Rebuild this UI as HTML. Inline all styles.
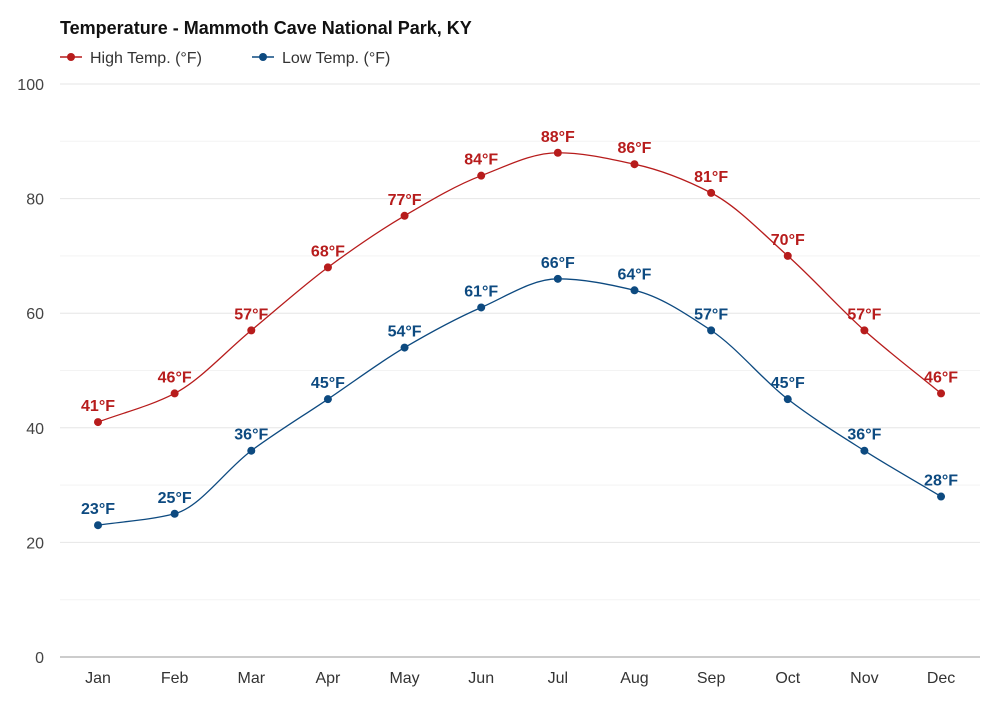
<!DOCTYPE html>
<html><head><meta charset="utf-8"><style>
body{margin:0;background:#fff;font-family:"Liberation Sans",sans-serif}
svg text{font-family:"Liberation Sans",sans-serif}
</style></head><body>
<svg id="chart" width="1000" height="700">
<text x="60" y="34" font-size="18" font-weight="bold" fill="#111">Temperature - Mammoth Cave National Park, KY</text>
<g>
<line x1="60" y1="57" x2="82" y2="57" stroke="#b71c1c" stroke-width="1.5"/><circle cx="71" cy="57" r="4" fill="#b71c1c"/>
<text x="90" y="63" font-size="16" fill="#333">High Temp. (°F)</text></g>
<g>
<line x1="252" y1="57" x2="274" y2="57" stroke="#0d4a80" stroke-width="1.5"/><circle cx="263" cy="57" r="4" fill="#0d4a80"/>
<text x="282" y="63" font-size="16" fill="#333">Low Temp. (°F)</text></g>
<g id="grid"></g><g id="series"></g>
</svg>
<script>
const months=["Jan","Feb","Mar","Apr","May","Jun","Jul","Aug","Sep","Oct","Nov","Dec"];
const highTemps=[41,46,57,68,77,84,88,86,81,70,57,46];
const lowTemps=[23,25,36,45,54,61,66,64,57,45,36,28];
const yTicks=[0,20,40,60,80,100];
const NS="http://www.w3.org/2000/svg";
const X=i=>98+i*76.64, Y=v=>657-v*5.73;
function mk(t,a,p){const e=document.createElementNS(NS,t);for(const k in a)e.setAttribute(k,a[k]);p.appendChild(e);return e;}
const grid=document.getElementById('grid'),ser=document.getElementById('series');
for(let v=10;v<=100;v+=10){const l=mk('line',{x1:60,x2:980,y1:Y(v),y2:Y(v),stroke:v%20?'#f3f3f3':'#e6e6e6'},grid);

}
const ax=mk('line',{x1:60,x2:980,y1:Y(0),y2:Y(0),stroke:'#999'},grid);


yTicks.forEach(v=>{const t=mk('text',{x:44,y:Y(v)+6,'font-size':16,fill:'#444','text-anchor':'end'},grid);t.textContent=v;

});
months.forEach((m,i)=>{const t=mk('text',{x:X(i),y:683,'font-size':16,fill:'#333','text-anchor':'middle'},grid);t.textContent=m;

});
function mono(pts){const n=pts.length,d=[],m=[];
for(let i=0;i<n-1;i++)d.push((pts[i+1][1]-pts[i][1])/(pts[i+1][0]-pts[i][0]));
m[0]=d[0];m[n-1]=d[n-2];
for(let i=1;i<n-1;i++)m[i]=d[i-1]*d[i]<=0?0:3*(d[i-1]+d[i])/((2/d[i-1]+1/d[i])*3+(1/d[i-1]+2/d[i])*0)||0;
for(let i=1;i<n-1;i++){if(d[i-1]*d[i]<=0)m[i]=0;else m[i]=2/(1/d[i-1]+1/d[i]);}
let s=`M${pts[0][0]},${pts[0][1]}`;
for(let i=0;i<n-1;i++){const h=(pts[i+1][0]-pts[i][0])/3;
s+=`C${pts[i][0]+h},${pts[i][1]+m[i]*h} ${pts[i+1][0]-h},${pts[i+1][1]-m[i+1]*h} ${pts[i+1][0]},${pts[i+1][1]}`;}return s;}
function draw(vals,col,name){const pts=vals.map((v,i)=>[X(i),Y(v)]);
const p=mk('path',{d:mono(pts),fill:'none',stroke:col,'stroke-width':1.3},ser);


vals.forEach((v,i)=>{const c=mk('circle',{cx:X(i),cy:Y(v),r:4,fill:col},ser);


const t=mk('text',{x:X(i),y:Y(v)-11,'font-size':16,'font-weight':'bold',fill:col,'text-anchor':'middle'},ser);t.textContent=v+'°F';

});}
draw(highTemps,'#b71c1c','high-temp');
draw(lowTemps,'#0d4a80','low-temp');
</script>
</body></html>
